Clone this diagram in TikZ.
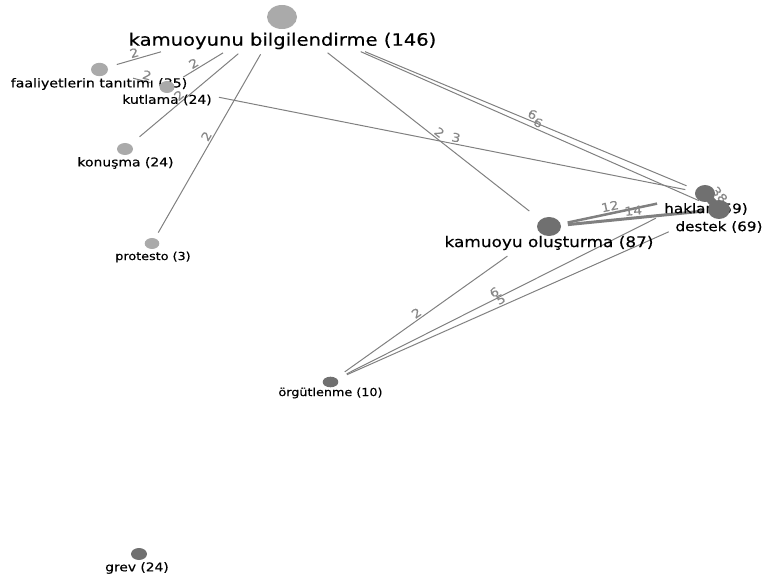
\documentclass[tikz,border=0pt]{standalone}
\usepackage{fontspec}
\setmainfont{DejaVu Sans}[FakeStretch=1.15,FakeBold=0.4]
\usetikzlibrary{shapes.geometric,calc}
\definecolor{lightdot}{HTML}{AAAAAA}
\definecolor{darkdot}{HTML}{707070}
\definecolor{edgecol}{HTML}{808080}
\definecolor{lblcol}{HTML}{888888}
\tikzset{
  dot/.style={ellipse, inner sep=0pt, draw=none},
  ldot/.style={dot, fill=lightdot},
  ddot/.style={dot, fill=darkdot},
  nlabel/.style={inner sep=0pt, text=black},
  conn/.style={draw=edgecol, line width=1pt},
  elbl/.style={sloped, above, inner sep=1.5pt, text=lblcol, font=\fontsize{12}{12}\selectfont}
}
\begin{document}
\begin{tikzpicture}[x=1pt,y=-1pt]
\useasboundingbox (0,0) rectangle (763,577);
% centres
\coordinate (cb) at (282,17);
\coordinate (cf) at (99.5,69.5);
\coordinate (ck) at (167,87);
\coordinate (cn) at (125,149);
\coordinate (cp) at (152,243.5);
\coordinate (co) at (549,226.5);
\coordinate (ch) at (705,193.5);
\coordinate (cd) at (719,209.5);
\coordinate (cg) at (330.5,382);
\coordinate (cv) at (139,554);
% edges
\draw[conn, shorten <=126pt, shorten >=18pt] (cb) -- node[elbl,pos=0.80]{2} (cf);
\draw[conn, shorten <=69pt, shorten >=19pt] (cb) -- node[elbl,pos=0.74]{2} (ck);
\draw[conn, shorten <=57pt, shorten >=19pt] (cb) -- node[elbl,pos=0.63]{2} (cn);
\draw[conn, shorten <=43pt, shorten >=12.5pt] (cb) -- node[elbl,pos=0.54]{2} (cp);
\draw[conn, shorten <=58pt, shorten >=25pt] (cb) -- node[elbl,pos=0.575]{2} (co);
\draw[conn, shorten <=90pt, shorten >=20pt] (cb) -- node[elbl,pos=0.586]{6} (ch);
\draw[conn, shorten <=86pt, shorten >=22pt] (cb) -- node[elbl,pos=0.58]{6} (cd);
\draw[conn, shorten <=34.7pt, shorten >=17pt] (cf) -- node[elbl,pos=0.68]{2} (ck);
\draw[conn, shorten <=53pt, shorten >=20pt] (ck) -- node[elbl,pos=0.535]{3} (ch);
\draw[conn, line width=2.5pt, shorten <=19pt, shorten >=49pt] (co) -- node[elbl,pos=0.40]{12} (ch);
\draw[conn, line width=3pt, shorten <=19pt, shorten >=16pt] (co) -- node[elbl,pos=0.50]{14} (cd);
\draw[draw=darkdot, line width=8pt] (ch) -- node[elbl,pos=0.5]{38} (cd);
\draw[conn, shorten <=17.5pt, shorten >=51pt] (cg) -- node[elbl,pos=0.41]{2} (co);
\draw[conn, shorten <=18pt, shorten >=55pt] (cg) -- node[elbl,pos=0.445]{6} (ch);
\draw[conn, shorten <=18pt, shorten >=55pt] (cg) -- node[elbl,pos=0.445]{5} (cd);
% labels
\node[nlabel, font=\fontsize{17}{18}\selectfont] (lb) at (282.5,41) {kamuoyunu bilgilendirme (146)};
\node[nlabel, font=\fontsize{12.3}{13}\selectfont] (lf) at (99,84) {faaliyetlerin tanıtımı (35)};
\node[nlabel, font=\fontsize{12.1}{13}\selectfont] (lk) at (167,100) {kutlama (24)};
\node[nlabel, font=\fontsize{12.1}{13}\selectfont] (ln) at (125.5,163) {konuşma (24)};
\node[nlabel, font=\fontsize{11.1}{12}\selectfont] (lp) at (153,257) {protesto (3)};
\node[nlabel, font=\fontsize{14.7}{15}\selectfont] (lo) at (549,243) {kamuoyu oluşturma (87)};
\node[nlabel, font=\fontsize{13.2}{14}\selectfont] (lh) at (706,209) {haklar (59)};
\node[nlabel, font=\fontsize{13.2}{14}\selectfont] (ld) at (719,227) {destek (69)};
\node[nlabel, font=\fontsize{11.1}{12}\selectfont] (lg) at (330.5,393) {örgütlenme (10)};
\node[nlabel, font=\fontsize{12}{13}\selectfont] (lv) at (137,568) {grev (24)};
% dots
\node[ldot, minimum width=30pt, minimum height=24pt] (b) at (cb) {};
\node[ldot, minimum width=17pt, minimum height=13.4pt] (f) at (cf) {};
\node[ldot, minimum width=15pt, minimum height=12pt] (k) at (ck) {};
\node[ldot, minimum width=16pt, minimum height=12pt] (n) at (cn) {};
\node[ldot, minimum width=14.6pt, minimum height=11pt] (p) at (cp) {};
\node[ddot, minimum width=24pt, minimum height=19pt] (o) at (co) {};
\node[ddot, minimum width=20pt, minimum height=17pt] (h) at (ch) {};
\node[ddot, minimum width=22pt, minimum height=19pt] (d) at (cd) {};
\node[ddot, minimum width=15.6pt, minimum height=10.6pt] (g) at (cg) {};
\node[ddot, minimum width=16pt, minimum height=12pt] (v) at (cv) {};
\end{tikzpicture}
\end{document}
